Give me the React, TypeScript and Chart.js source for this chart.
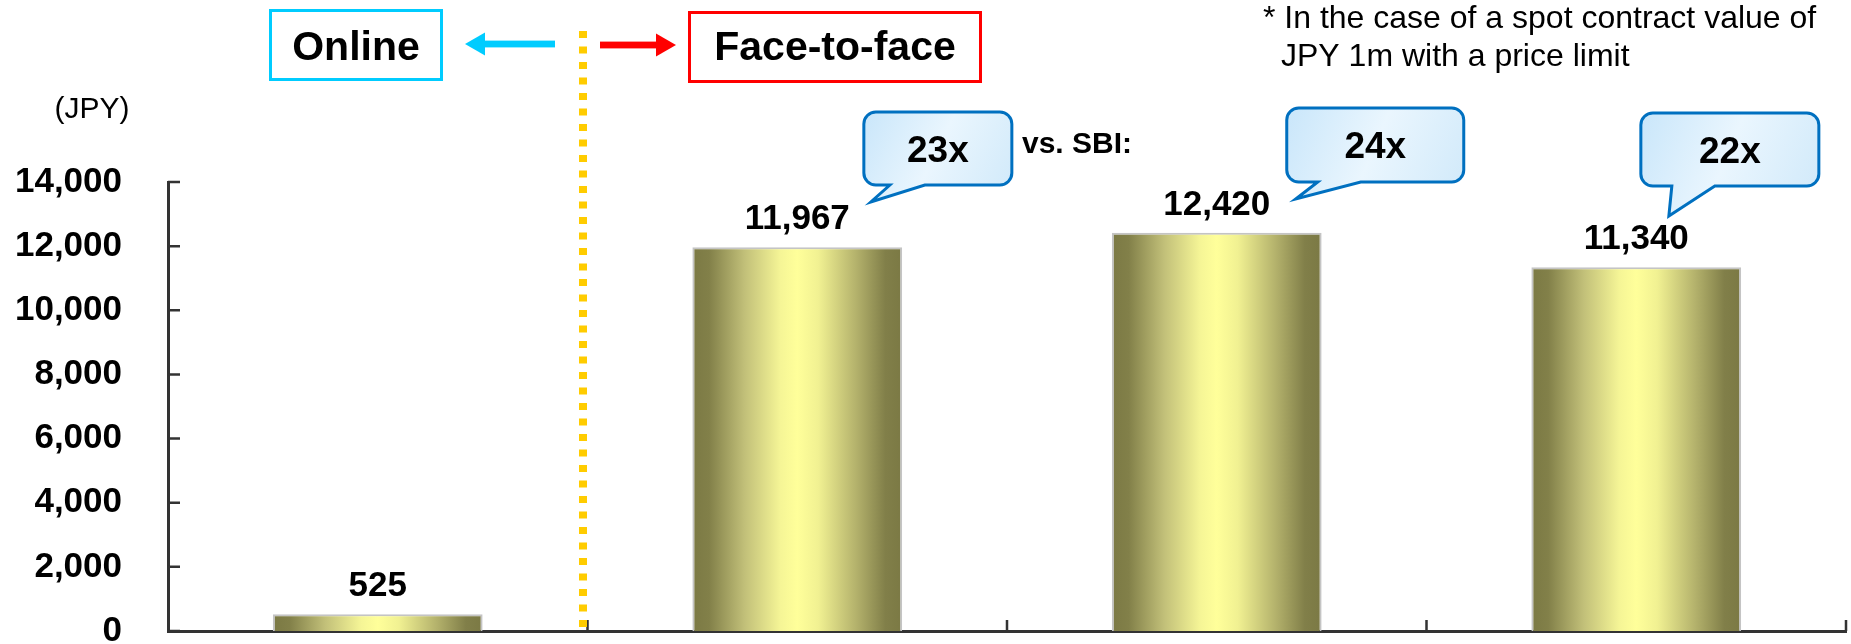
import React, { useEffect, useRef } from 'react';
import { Chart, registerables } from 'chart.js';

Chart.register(...registerables);

// Brokerage commission per trade (JPY)
const categories = ['SBI', 'Broker A', 'Broker B', 'Broker C'];
const commissions = [525, 11967, 12420, 11340];
const yMin = 0;
const yMax = 14000;
const yStep = 2000;

const unitLabel = '(JPY)';
const onlineLabel = 'Online';
const faceLabel = 'Face-to-face';
const versusLabel = 'vs. SBI:';
const footnoteLines = ['* In the case of a spot contract value of', 'JPY 1m with a price limit'];

// How many times the online fee each face-to-face fee is
const multiples = commissions.slice(1).map((v) => `${Math.round(v / commissions[0])}x`);

const FONT = '"Liberation Sans", Arial, Helvetica, sans-serif';
const W = 1851;
const H = 644;

// Callout geometry, relative to the centre of the bar it belongs to
const calloutLayout = [
  { dx: 66.6, y: 112, w: 148, h: 73, b1: 92.6, b2: 127.6, tx: 73.6, ty: 202 },
  { dx: 70, y: 108, w: 177, h: 74, b1: 101, b2: 144, tx: 79, ty: 199 },
  { dx: 4.6, y: 113, w: 178, h: 73, b1: 35.6, b2: 78.6, tx: 32.6, ty: 216 },
];

const fmt = (v: number) => v.toLocaleString('en-US');

function barGradient(chart: any, index: number) {
  const xs = chart.scales?.x;
  if (!xs || !chart.chartArea) return '#e6e48a';
  const cx = xs.getPixelForValue(index);
  const half = (xs.width / categories.length) * 0.25;
  const g = chart.ctx.createLinearGradient(cx - half, 0, cx + half, 0);
  g.addColorStop(0, '#7b7944');
  g.addColorStop(0.08, '#828049');
  g.addColorStop(0.25, '#c2c079');
  g.addColorStop(0.42, '#f5f596');
  g.addColorStop(0.5, '#ffff9a');
  g.addColorStop(0.6, '#f1f192');
  g.addColorStop(0.78, '#b4b26c');
  g.addColorStop(0.92, '#817f49');
  g.addColorStop(1, '#7b7944');
  return g;
}

function drawCallout(ctx: CanvasRenderingContext2D, cx: number, c: any, text: string) {
  const x = cx + c.dx;
  const { y, w, h } = c;
  const r = 12;
  ctx.save();
  ctx.beginPath();
  ctx.moveTo(x + r, y);
  ctx.lineTo(x + w - r, y);
  ctx.arcTo(x + w, y, x + w, y + r, r);
  ctx.lineTo(x + w, y + h - r);
  ctx.arcTo(x + w, y + h, x + w - r, y + h, r);
  ctx.lineTo(cx + c.b2, y + h);
  ctx.lineTo(cx + c.tx, c.ty);
  ctx.lineTo(cx + c.b1, y + h);
  ctx.lineTo(x + r, y + h);
  ctx.arcTo(x, y + h, x, y + h - r, r);
  ctx.lineTo(x, y + r);
  ctx.arcTo(x, y, x + r, y, r);
  ctx.closePath();
  const g = ctx.createLinearGradient(x, y, x + w, y + h);
  g.addColorStop(0, '#c9e6fa');
  g.addColorStop(0.5, '#eaf6fe');
  g.addColorStop(1, '#d2eafa');
  ctx.fillStyle = g;
  ctx.fill();
  ctx.lineWidth = 3;
  ctx.lineJoin = 'miter';
  ctx.strokeStyle = '#0070c0';
  ctx.stroke();
  ctx.fillStyle = '#000';
  ctx.font = `bold 37px ${FONT}`;
  ctx.textAlign = 'center';
  ctx.textBaseline = 'alphabetic';
  ctx.fillText(text, x + w / 2, y + h / 2 + 13);
  ctx.restore();
}

function drawArrow(ctx: CanvasRenderingContext2D, from: number, tip: number, y: number, color: string) {
  const dir = tip > from ? 1 : -1;
  const headLen = 20;
  const headHalf = 11.5;
  ctx.save();
  ctx.fillStyle = color;
  ctx.fillRect(Math.min(from, tip - dir * headLen), y - 3.4, Math.abs(tip - dir * headLen - from), 6.8);
  ctx.beginPath();
  ctx.moveTo(tip, y);
  ctx.lineTo(tip - dir * headLen, y - headHalf);
  ctx.lineTo(tip - dir * headLen, y + headHalf);
  ctx.closePath();
  ctx.fill();
  ctx.restore();
}

function drawLabelBox(ctx: CanvasRenderingContext2D, text: string, x0: number, y0: number, x1: number, y1: number, color: string) {
  ctx.save();
  ctx.strokeStyle = color;
  ctx.lineWidth = 3;
  ctx.strokeRect(x0 + 1.5, y0 + 1.5, x1 - x0 - 3, y1 - y0 - 3);
  ctx.fillStyle = '#000';
  ctx.font = `bold 41px ${FONT}`;
  ctx.textAlign = 'center';
  ctx.textBaseline = 'alphabetic';
  ctx.fillText(text, (x0 + x1) / 2, 60);
  ctx.restore();
}

const decorations = {
  id: 'decorations',
  beforeDatasetsDraw(chart: any) {
    const { ctx, chartArea: area } = chart;
    const xs = chart.scales.x;
    const ys = chart.scales.y;
    ctx.save();
    // inward tick marks
    ctx.strokeStyle = '#333';
    ctx.lineWidth = 2.5;
    ctx.beginPath();
    ys.ticks.forEach((t: any) => {
      const py = ys.getPixelForValue(t.value);
      ctx.moveTo(area.left, py);
      ctx.lineTo(area.left + 12, py);
    });
    for (let k = 0; k < categories.length; k++) {
      const px = xs.getPixelForValue(k + 0.5);
      ctx.moveTo(px, area.bottom);
      ctx.lineTo(px, area.bottom - 11);
    }
    ctx.stroke();

    // divider between online and face-to-face
    const divX = xs.getPixelForValue(0.5) - 4.5;
    ctx.strokeStyle = '#ffcc00';
    ctx.lineWidth = 8;
    ctx.setLineDash([7, 8.5]);
    ctx.beginPath();
    ctx.moveTo(divX, 31);
    ctx.lineTo(divX, area.bottom - 3);
    ctx.stroke();
    ctx.setLineDash([]);
    ctx.restore();
  },
  afterDatasetsDraw(chart: any) {
    const { ctx } = chart;
    const meta = chart.getDatasetMeta(0);
    ctx.save();

    // value labels
    ctx.fillStyle = '#000';
    ctx.font = `bold 35px ${FONT}`;
    ctx.textAlign = 'center';
    ctx.textBaseline = 'alphabetic';
    meta.data.forEach((bar: any, i: number) => {
      ctx.fillText(fmt(commissions[i]), bar.x, bar.y - 18);
    });

    // multiples vs. the online broker
    multiples.forEach((m, i) => {
      drawCallout(ctx, meta.data[i + 1].x, calloutLayout[i], m);
    });

    ctx.fillStyle = '#000';
    ctx.font = `bold 30px ${FONT}`;
    ctx.textAlign = 'left';
    ctx.fillText(versusLabel, 1022, 153);

    // unit
    ctx.font = `30px ${FONT}`;
    ctx.textAlign = 'center';
    ctx.fillText(unitLabel, 92, 118);

    // footnote
    ctx.textAlign = 'left';
    ctx.font = `32px ${FONT}`;
    ctx.fillText(footnoteLines[0], 1263, 28);
    ctx.fillText(footnoteLines[1], 1281, 66);
    ctx.restore();

    // channel headers
    drawLabelBox(ctx, onlineLabel, 269, 9, 443, 81, '#00ccff');
    drawLabelBox(ctx, faceLabel, 688, 11, 982, 83, '#ff0000');
    drawArrow(ctx, 555, 465, 44, '#00ccff');
    drawArrow(ctx, 600, 676, 45, '#ff0000');
  },
};

export default function App() {
  const canvasRef = useRef<HTMLCanvasElement | null>(null);

  useEffect(() => {
    const canvas = canvasRef.current;
    if (!canvas) return;
    const chart = new Chart(canvas, {
      type: 'bar',
      data: {
        labels: categories,
        datasets: [
          {
            data: commissions,
            backgroundColor: (c: any) => barGradient(c.chart, c.dataIndex),
            borderColor: '#c4c4c4',
            borderWidth: 2,
            borderSkipped: 'bottom',
            categoryPercentage: 1,
            barPercentage: 0.5,
          },
        ],
      },
      options: {
        responsive: false,
        animation: false,
        devicePixelRatio: 1,
        layout: { padding: { top: 182, right: 5, bottom: 0, left: 0 } },
        plugins: { legend: { display: false }, tooltip: { enabled: false } },
        scales: {
          x: {
            grid: { display: false, drawTicks: false },
            ticks: { display: false },
            border: { display: true, color: '#333', width: 3 },
            afterFit: (s: any) => {
              s.height = 13;
            },
          },
          y: {
            min: yMin,
            max: yMax,
            grid: { display: false, drawTicks: true, tickLength: 46 },
            border: { display: true, color: '#333', width: 3 },
            ticks: {
              stepSize: yStep,
              padding: 0,
              color: '#000',
              font: { family: FONT, size: 35, weight: 'bold', lineHeight: 0.7 },
              callback: (v: any) => fmt(Number(v)),
            },
            afterFit: (s: any) => {
              s.width = 168;
            },
          },
        },
      },
      plugins: [decorations],
    } as any);
    return () => chart.destroy();
  }, []);

  return (
    <div style={{ position: 'fixed', left: 0, top: 0, width: W, height: H, background: '#fff' }}>
      <canvas ref={canvasRef} width={W} height={H} style={{ display: 'block', width: W, height: H }} />
    </div>
  );
}
